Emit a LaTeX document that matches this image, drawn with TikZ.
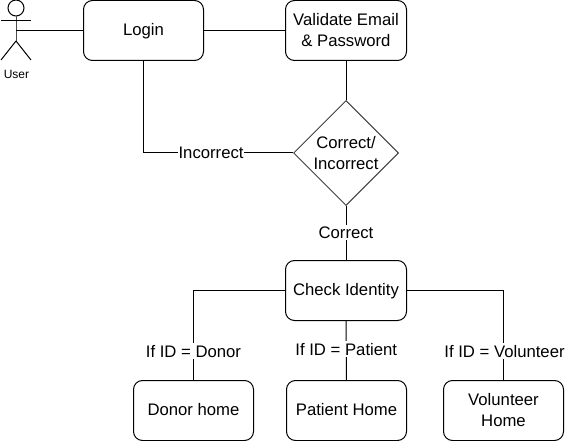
\documentclass[tikz,border=0pt]{standalone}
\usepackage{fontspec}
\setmainfont{Liberation Sans}
\usetikzlibrary{shapes.geometric}
\begin{document}
\begin{tikzpicture}[x=1pt,y=-1pt,
  txt/.style={font=\fontsize{16.7}{21}\selectfont},
  box/.style={draw=black,rounded corners=9pt,line width=1pt,minimum width=120pt,minimum height=60pt,align=center,inner sep=0pt,txt},
  lower/.style={text height=13pt,text depth=2.5pt},
  upper/.style={text height=12pt,text depth=2pt},
  lab/.style={fill=white,inner xsep=0.5pt,inner ysep=2pt,txt},
  con/.style={draw=black,line width=1pt}]
\useasboundingbox (0,0) rectangle (565,441);
\fill[white] (0,0) rectangle (565,441);
\node[box,lower] (login) at (143.5,30.5) {Login};
\node[box,minimum width=121pt] (valid) at (346,30.5) {Validate Email\\\& Password};
\node[draw=black!75,line width=1pt,diamond,aspect=1,minimum width=105pt,minimum height=105pt,inner sep=0pt,align=center,txt] (dec) at (346,153) {Correct/\\Incorrect};
\node[box,lower,minimum width=121pt] (check) at (346,290.5) {Check Identity};
\node[box,upper] (donor) at (193.5,410.5) {Donor home};
\node[box,upper] (patient) at (346.5,410.5) {Patient Home};
\node[box] (vol) at (503.5,410.5) {Volunteer\\Home};
\coordinate (actor) at (16,30.5);
\draw[con] (16,8) circle (8pt);
\draw[con,draw=black!70] (16,16) -- (16,41);
\draw[con] (1,20.5) -- (31,20.5);
\draw[con] (16,41) -- (1,60);
\draw[con] (16,41) -- (31,60);
\node[font=\fontsize{12}{14}\selectfont] (user) at (16.5,74) {User};
\draw[con] (actor) -- (login.west);
\draw[con] (login) -- (valid);
\draw[con] (valid) -- (dec);
\draw[con] (login.south) |- (dec.west) node[lab,pos=0.726] {Incorrect};
\draw[con] (dec) -- (check) node[lab,pos=0.49] {Correct};
\draw[con] (check.west) -| (donor.north) node[lab,pos=0.84] {If ID = Donor};
\draw[con] (check) -- (patient) node[lab,pos=0.48] {If ID = Patient};
\draw[con] (check.east) -| (vol.north) node[lab,pos=0.84,xshift=1pt] {If ID = Volunteer};
\end{tikzpicture}
\end{document}
